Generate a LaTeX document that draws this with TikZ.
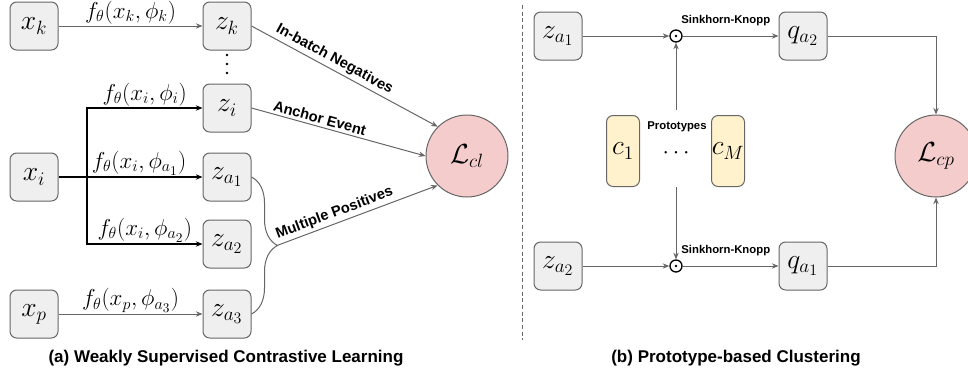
\documentclass[tikz,border=0pt]{standalone}
\usepackage{fontspec}
\setsansfont{Liberation Sans}
\usetikzlibrary{positioning}
\usetikzlibrary{arrows.meta}
\usetikzlibrary{decorations.pathreplacing}
\definecolor{boxgray}{HTML}{EFEFEF}
\definecolor{linegray}{HTML}{666666}
\definecolor{protoyellow}{HTML}{FFF2CC}
\definecolor{losspink}{HTML}{F4CCCC}
\tikzset{
    cell/.style = {rectangle, rounded corners=5pt, draw=linegray, line width=0.75pt, fill=boxgray, minimum size=36pt, inner sep=0pt, font=\huge},
    cellp/.style = {cell, fill=protoyellow, minimum width=24.75pt, minimum height=53.25pt},
    lossnode/.style = {circle, draw=linegray, line width=0.75pt, fill=losspink, minimum size=61.5pt, inner sep=0pt, font=\huge},
    opnode/.style = {circle, draw=black, line width=1pt, minimum size=9pt, inner sep=0pt, path picture={\fill (path picture bounding box.center) circle (1pt);}},
    edgeg/.style = {-{Stealth[length=5pt,width=4pt]}, line width=0.75pt, linegray},
    edgek/.style = {-{Stealth[length=5pt,width=4pt]}, line width=1pt, black},
    fl/.style = {above, inner sep=1pt, text=black, font=\LARGE},
    el/.style = {above, sloped, inner sep=2pt, text=black, font=\sffamily\bfseries\fontsize{11}{13}\selectfont},
    sl/.style = {text=black, font=\sffamily\bfseries\fontsize{8.5}{10}\selectfont},
    caption/.style = {font=\sffamily\bfseries\fontsize{12.75}{15}\selectfont},
}

\begin{document}
\begin{tikzpicture}[x=0.75pt,y=-0.75pt]
\useasboundingbox (0,0) rectangle (968,376);
% (a) contrastive part
\node[cell] at (34, 26) (xk) {$x_k$};
\node[cell] at (34, 177) (xi) {$x_i$};
\node[cell] at (34, 314) (xp) {$x_p$};
\node[cell] at (227, 26) (zk) {$z_k$};
\node[cell] at (227, 108) (zi) {$z_i$};
\node[cell] at (227, 177) (za1) {$z_{a_1}$};
\node[cell] at (227, 244) (za2) {$z_{a_2}$};
\node[cell] at (227, 314) (za3) {$z_{a_3}$};
\node[lossnode] at (467, 156) (Lcl) {$\mathcal{L}_{cl}$};
\coordinate (br) at (87, 177);
\coordinate (mp) at (277, 245.5);
\foreach \y in {55,64,73} \fill (227,\y) circle (1.1pt);
%
\draw[edgeg] (xk) -- node[fl] {$f_\theta(x_k,\phi_k)$} (zk);
\draw[edgek] (xi) -- node[fl, pos=0.56] {$f_\theta(x_i,\phi_{a_1})$} (za1);
\draw[edgek] (br) |- node[fl, pos=0.75] {$f_\theta(x_i,\phi_i)$} (zi);
\draw[edgek] (br) |- node[fl, pos=0.75] {$f_\theta(x_i,\phi_{a_2})$} (za2);
\draw[edgeg] (xp) -- node[fl] {$f_\theta(x_p,\phi_{a_3})$} (za3);
\draw[linegray, line width=0.75pt, decorate, decoration={brace, amplitude=19.5pt}] (za1.east) -- (za3.east);
\draw[edgeg] (zk.east) -- node[el, pos=0.42] {In-batch Negatives} (Lcl.135);
\draw[edgeg] (zi.east) -- node[el, pos=0.38] {Anchor Event} (Lcl.west);
\draw[edgeg] (mp) -- node[el, pos=0.38] {Multiple Positives} (Lcl.225);
\node[caption] at (226, 358) (capa) {(a) Weakly Supervised Contrastive Learning};
%
\draw[linegray, line width=0.75pt, dash pattern=on 3pt off 2pt] (522, 5) -- (522, 340);
% (b) prototype part
\node[cell] at (558, 36) (za1b) {$z_{a_1}$};
\node[cell] at (558, 266) (za2b) {$z_{a_2}$};
\node[opnode] at (676, 36) (o1) {};
\node[opnode] at (676, 266) (o2) {};
\node[cellp] at (623, 151) (c1) {$c_1$};
\node[cellp] at (728, 151) (cM) {$c_M$};
\node[sl] at (677, 127) (pt) {Prototypes};
\node[font=\LARGE] at (676, 153) (cd) {$\cdots$};
\coordinate (pu) at (676, 110);
\coordinate (pd) at (676, 187);
\node[cell] at (803, 36) (qa2) {$q_{a_2}$};
\node[cell] at (803, 266) (qa1) {$q_{a_1}$};
\node[lossnode] at (936, 156) (Lcp) {$\mathcal{L}_{cp}$};
%
\draw[edgeg] (za1b) -- (o1);
\draw[edgeg] (za2b) -- (o2);
\draw[edgeg] (pu) -- (o1);
\draw[edgeg] (pd) -- (o2);
\draw[edgeg] (o1) -- node[sl, above=4pt, pos=0.45] {Sinkhorn-Knopp} (qa2);
\draw[edgeg] (o2) -- node[sl, above=4pt, pos=0.45] {Sinkhorn-Knopp} (qa1);
\draw[edgeg] (qa2) -| (Lcp);
\draw[edgeg] (qa1) -| (Lcp);
\node[caption] at (736, 358) (capb) {(b) Prototype-based Clustering};

\end{tikzpicture}
\end{document}
